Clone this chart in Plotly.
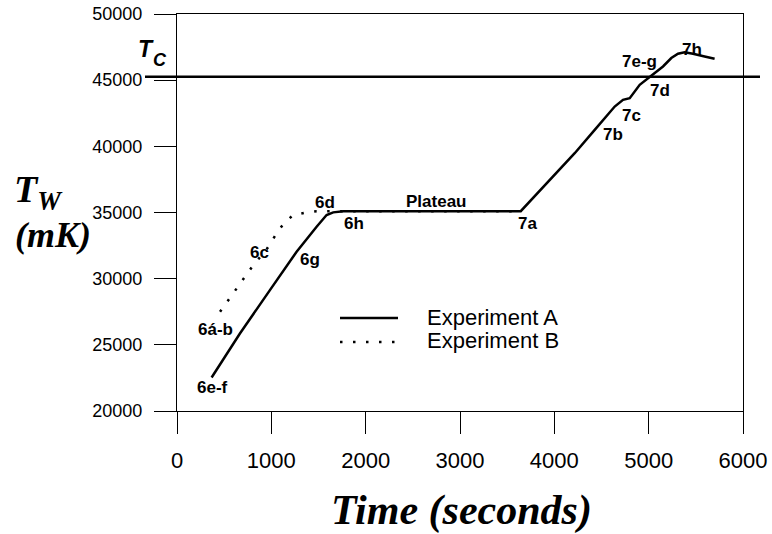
import plotly.graph_objects as go

# ---- data ----
a_time = [367, 667, 985, 1268, 1480, 1586, 1656, 1762, 3644, 3916, 4216, 4428, 4640,
          4728, 4799, 4905, 5046, 5152, 5240, 5311, 5381, 5470, 5593, 5699]
a_temp = [22530, 25860, 29135, 32034, 33926, 34811, 35010, 35100, 35100, 37210, 39480,
          41244, 43007, 43514, 43640, 44650, 45406, 46034, 46670, 46995, 47100, 46995,
          46791, 46617]

b_time = [456, 544, 625, 710, 791, 957, 1056, 1133, 1232, 1374, 1480, 3644]
b_temp = [27494, 28378, 29260, 30070, 30852, 32290, 33425, 34181, 34811, 35010, 35100, 35100]

tc_value = 45250

x_ticks = [0, 1000, 2000, 3000, 4000, 5000, 6000]
y_ticks = [20000, 25000, 30000, 35000, 40000, 45000, 50000]

point_labels = ["6e-f", "6á-b", "6c", "6d", "6h", "6g", "Plateau",
                "7a", "7b", "7c", "7d", "7e-g", "7h"]
label_x = [381, 403, 879, 1568, 1875, 1409, 2744, 3718, 4619, 4820, 5117, 4905, 5456]
label_y = [21794, 26184, 32011, 35719, 34205, 31481, 35795, 34205, 40865, 42303, 44195,
           46390, 47298]

series_names = ["Experiment A", "Experiment B"]

X_RANGE = [0, 6000]
Y_RANGE = [20000, 50000]

W, H = 772, 534
ML, MR, MT, MB = 177, 29, 14, 123
PW, PH = W - ML - MR, H - MT - MB


def px_x(p):
    return (p - ML) / PW


def px_y(p):
    return (H - MB - p) / PH


SANS = "Liberation Sans, Arial, sans-serif"
SERIF = "Liberation Serif, Times New Roman, serif"

fig = go.Figure()
fig.add_trace(go.Scatter(x=a_time, y=a_temp, mode="lines", name=series_names[0],
                         line=dict(color="black", width=2.5), showlegend=False))
fig.add_trace(go.Scatter(x=b_time, y=b_temp, mode="lines", name=series_names[1],
                         line=dict(color="black", width=2.5, dash="2.5px,10.5px"),
                         showlegend=False))

shapes = []
# Tc reference line, extending past the frame
tc_p = (tc_value - Y_RANGE[0]) / (Y_RANGE[1] - Y_RANGE[0])
shapes.append(dict(type="line", xref="paper", yref="paper", x0=px_x(145), x1=px_x(760),
                   y0=tc_p, y1=tc_p, line=dict(color="black", width=2.5)))
# manual legend samples
shapes.append(dict(type="line", xref="paper", yref="paper", x0=px_x(340), x1=px_x(398),
                   y0=px_y(318), y1=px_y(318), line=dict(color="black", width=2.5)))
shapes.append(dict(type="line", xref="paper", yref="paper", x0=px_x(340), x1=px_x(398),
                   y0=px_y(342), y1=px_y(342),
                   line=dict(color="black", width=2.5, dash="2.5px,10.5px")))

annotations = []
for t, x, y in zip(point_labels, label_x, label_y):
    annotations.append(dict(x=x, y=y, xref="x", yref="y", text="<b>%s</b>" % t,
                            showarrow=False, font=dict(family=SANS, size=17, color="black"),
                            xanchor="center", yanchor="middle"))

annotations.append(dict(x=px_x(425), y=px_y(317), xref="paper", yref="paper",
                        text=series_names[0], showarrow=False, xanchor="left",
                        yanchor="middle", font=dict(family=SANS, size=22, color="black")))
annotations.append(dict(x=px_x(425), y=px_y(340), xref="paper", yref="paper",
                        text=series_names[1], showarrow=False, xanchor="left",
                        yanchor="middle", font=dict(family=SANS, size=22, color="black")))

# Tc label
annotations.append(dict(x=px_x(146), y=px_y(49), xref="paper", yref="paper",
                        text="<b><i>T</i></b>", showarrow=False, xanchor="center",
                        yanchor="middle", font=dict(family=SANS, size=23, color="black")))
annotations.append(dict(x=px_x(159.5), y=px_y(60), xref="paper", yref="paper",
                        text="<b><i>C</i></b>", showarrow=False, xanchor="center",
                        yanchor="middle", font=dict(family=SANS, size=18, color="black")))

# Y-axis title
annotations.append(dict(x=px_x(12), y=px_y(192), xref="paper", yref="paper",
                        text="<b><i>T<sub>W</sub></i></b>", showarrow=False, xanchor="left",
                        yanchor="middle", font=dict(family=SERIF, size=38, color="black")))
annotations.append(dict(x=px_x(53), y=px_y(235), xref="paper", yref="paper",
                        text="<b><i>(mK)</i></b>", showarrow=False, xanchor="center",
                        yanchor="middle", font=dict(family=SERIF, size=36, color="black")))

# X-axis title
annotations.append(dict(x=px_x(461), y=px_y(511), xref="paper", yref="paper",
                        text="<b><i>Time (seconds)</i></b>", showarrow=False,
                        xanchor="center", yanchor="middle",
                        font=dict(family=SERIF, size=42, color="black")))

fig.update_layout(
    width=W, height=H,
    margin=dict(l=ML, r=MR, t=MT, b=MB, pad=0, autoexpand=False),
    paper_bgcolor="white", plot_bgcolor="white",
    shapes=shapes, annotations=annotations,
    showlegend=False,
)
fig.update_xaxes(range=X_RANGE, tickvals=x_ticks, ticktext=[str(v) for v in x_ticks],
                 ticks="outside", ticklen=22, tickwidth=1, tickcolor="black",
                 showline=True, linecolor="black", linewidth=1, mirror=True,
                 showgrid=False, zeroline=False, ticklabelstandoff=8, automargin=False,
                 tickfont=dict(family=SANS, size=22, color="black"))
fig.update_yaxes(range=Y_RANGE, tickvals=y_ticks, ticktext=[str(v) for v in y_ticks],
                 ticks="outside", ticklen=22, tickwidth=1, tickcolor="black",
                 showline=True, linecolor="black", linewidth=1, mirror=True,
                 showgrid=False, zeroline=False, ticklabelstandoff=8, automargin=False,
                 tickfont=dict(family=SANS, size=18, color="black"))

fig.write_html("out.html")
